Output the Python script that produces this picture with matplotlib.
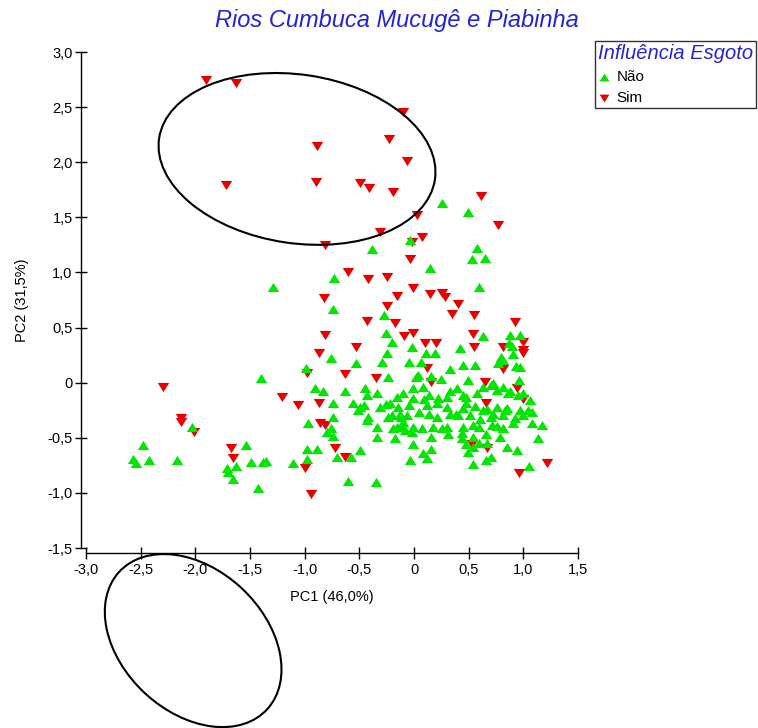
import matplotlib
matplotlib.use("Agg")
import matplotlib.pyplot as plt
from matplotlib.patches import Ellipse
from matplotlib.ticker import FuncFormatter

plt.rcParams['font.family'] = ['Liberation Sans', 'DejaVu Sans']

# PCA scores, sewage influence = "Sim"
sim_pc1 = [-1.90, -1.63, -0.10, -0.23, -0.89, -0.06, -1.72, -0.90, -0.49, -0.41,
           -0.19, 0.61, 0.03, 0.77, -0.31, 0.07, -0.02, -0.81, -0.04, -0.60,
           -0.42, -0.25, -0.01, 0.15, 0.26, 0.28, -0.82, -0.16, 0.40, -0.25,
           0.35, 0.55, -0.43, -0.17, 0.92, -0.81, -0.01, -0.09, 0.54, -0.53,
           0.10, 0.20, 0.55, 0.81, 1.00, 1.00, 1.00, -0.87, -0.98, -0.63,
           -0.35, 0.12, 0.81, 0.16, 0.65, 0.94, -2.30, -1.21, -1.06, -0.87,
           0.66, 1.00, -2.13, -2.13, -2.01, -0.86, -0.81, -1.67, -1.66, -0.72,
           -0.63, -1.00, -0.94, 0.53, 0.67, 1.22, 0.96]
sim_pc2 = [2.75, 2.72, 2.46, 2.21, 2.15, 2.01, 1.79, 1.82, 1.81, 1.77,
           1.73, 1.69, 1.52, 1.43, 1.37, 1.32, 1.28, 1.25, 1.12, 1.00,
           0.94, 0.96, 0.86, 0.80, 0.81, 0.78, 0.77, 0.79, 0.71, 0.70,
           0.62, 0.61, 0.56, 0.54, 0.55, 0.43, 0.45, 0.42, 0.44, 0.32,
           0.36, 0.36, 0.32, 0.32, 0.37, 0.30, 0.27, 0.27, 0.09, 0.08,
           0.04, 0.13, 0.12, 0.01, 0.01, -0.05, -0.04, -0.13, -0.20, -0.18,
           -0.18, -0.15, -0.32, -0.36, -0.45, -0.37, -0.38, -0.59, -0.68, -0.59,
           -0.67, -0.77, -1.01, -0.56, -0.59, -0.73, -0.82]

# PCA scores, sewage influence = "Não"
nao_pc1 = [0.26, 0.49, -0.04, -0.38, 0.58, 0.53, 0.65, 0.15, -0.73, -1.29,
           0.59, -0.74, -0.27, -0.26, -0.20, -0.02, -0.25, 0.11, 0.19, 0.42,
           0.63, 0.88, 0.97, 0.87, 0.80, 0.91, -0.76, -0.53, -0.29, -0.05,
           0.06, 0.33, 0.45, 0.56, 0.77, 0.93, 0.97, -1.40, -0.99, -0.24,
           0.02, 0.16, 0.25, 0.49, 0.96, -2.48, -2.57, -2.54, -2.42, -2.17,
           -2.03, -1.54, -1.71, -1.70, -1.63, -1.66, -1.49, -1.38, -1.35, -1.11,
           -0.98, -1.43, -0.91, -0.83, -0.63, -0.74, -0.56, -0.49, -0.45, -0.43,
           -0.34, -0.97, -0.74, -0.80, -0.76, -0.74, -0.42, -0.34, -0.34, -0.98,
           -0.89, -0.70, -0.49, -0.58, -0.60, -0.35, -0.26, -0.31, -0.16, -0.10,
           -0.20, -0.12, -0.06, -0.24, -0.16, -0.08, -0.17, -0.51, -0.46, -0.22,
           -0.15, -0.05, -0.01, 0.08, 0.14, 0.22, 0.30, 0.39, 0.45, 0.58,
           0.63, 0.70, 0.76, 0.81, 0.86, 1.00, 1.06, -0.01, 0.09, 0.21,
           0.33, 0.48, 0.72, 0.88, 0.95, 0.48, 0.56, 0.67, 0.76, 0.85,
           0.97, 1.08, -0.13, 0.05, 0.14, 0.21, 0.33, 0.40, 0.51, 0.60,
           0.70, 0.81, 0.92, 1.00, 1.08, 1.17, -0.11, -0.02, 0.07, 0.17,
           0.26, 0.31, 0.44, 0.54, 0.66, 0.76, 0.81, 0.91, 1.13, -0.01,
           0.16, 0.08, 0.48, 0.59, 0.85, 0.94, -0.04, 0.49, 0.70, 0.66,
           0.54, 1.05, 0.12, 0.30, 0.38, 0.45, 0.63, 0.72, 0.83, 1.04,
           -0.43, -0.19, -0.10, -0.01, 0.30, 0.45, 0.59, 0.71, 0.16, 0.44,
           0.54, 0.79, 0.54, 0.67, 0.12, 0.04, 0.90, 0.81]
nao_pc2 = [1.63, 1.55, 1.29, 1.21, 1.22, 1.12, 1.13, 1.04, 0.95, 0.87,
           0.87, 0.67, 0.61, 0.45, 0.37, 0.32, 0.27, 0.27, 0.27, 0.31,
           0.42, 0.43, 0.43, 0.36, 0.23, 0.26, 0.22, 0.18, 0.19, 0.19,
           0.19, 0.12, 0.16, 0.16, 0.18, 0.15, 0.14, 0.04, 0.13, 0.05,
           0.05, 0.06, 0.03, 0.02, 0.02, -0.57, -0.69, -0.73, -0.70, -0.70,
           -0.40, -0.57, -0.77, -0.81, -0.76, -0.87, -0.72, -0.72, -0.71, -0.73,
           -0.69, -0.96, -0.05, -0.08, -0.08, -0.18, -0.18, -0.22, -0.05, -0.11,
           -0.09, -0.37, -0.31, -0.45, -0.41, -0.48, -0.31, -0.40, -0.49, -0.60,
           -0.60, -0.67, -0.61, -0.67, -0.89, -0.90, -0.19, -0.22, -0.13, -0.09,
           -0.29, -0.31, -0.29, -0.31, -0.40, -0.43, -0.50, -0.25, -0.20, -0.18,
           -0.22, -0.20, -0.05, -0.04, -0.11, -0.14, -0.13, -0.05, -0.11, -0.09,
           -0.04, -0.02, -0.07, -0.04, -0.09, -0.09, -0.16, -0.14, -0.15, -0.18,
           -0.08, -0.13, 0.00, -0.08, -0.11, -0.18, -0.21, -0.24, -0.22, -0.23,
           -0.25, -0.27, -0.28, -0.27, -0.28, -0.31, -0.28, -0.29, -0.29, -0.33,
           -0.31, -0.29, -0.32, -0.29, -0.37, -0.38, -0.39, -0.45, -0.41, -0.40,
           -0.41, -0.47, -0.46, -0.38, -0.47, -0.39, -0.41, -0.37, -0.50, -0.56,
           -0.60, -0.64, -0.56, -0.55, -0.58, -0.61, -0.70, -0.63, -0.67, -0.70,
           -0.74, -0.76, -0.20, -0.22, -0.28, -0.23, -0.25, -0.28, -0.25, -0.25,
           -0.34, -0.41, -0.36, -0.40, -0.40, -0.40, -0.40, -0.38, -0.49, -0.50,
           -0.49, -0.49, -0.58, -0.55, -0.68, 0.07, 0.33, 0.21]

# confidence ellipses: centre, width, height, angle
ellipses = [((-1.07, 2.03), 2.55, 1.53, -8.4),
            ((-2.02, -2.34), 1.84, 1.30, -42.5)]

xticks = [-3.0, -2.5, -2.0, -1.5, -1.0, -0.5, 0.0, 0.5, 1.0, 1.5]
yticks = [-1.5, -1.0, -0.5, 0.0, 0.5, 1.0, 1.5, 2.0, 2.5, 3.0]

# flattened triangles
tri_up = [(-1, -0.8), (1, -0.8), (0, 0.8), (-1, -0.8)]
tri_down = [(-1, 0.8), (1, 0.8), (0, -0.8), (-1, 0.8)]

fig = plt.figure(figsize=(7.58, 7.28), dpi=100)
ax = fig.add_axes([86/758, 180/728, 492/758, 496/728])

red = ax.scatter(sim_pc1, sim_pc2, marker=tri_down, s=68, color='#e60000',
                 linewidths=0, zorder=3, label='Sim')
green = ax.scatter(nao_pc1, nao_pc2, marker=tri_up, s=68, color='#00e600',
                   linewidths=0, zorder=4, label='Não')

for centre, w, h, ang in ellipses:
    ax.add_patch(Ellipse(centre, w, h, angle=ang, fill=False, edgecolor='black',
                         linewidth=1.5, clip_on=False, zorder=5))

ax.set_xlim(-3.0, 1.5)
ax.set_ylim(-1.5, 3.0)
ax.set_xticks(xticks)
ax.set_yticks(yticks)


def comma(v, pos):
    if abs(v) < 1e-9:
        return '0'
    return ('%.1f' % v).replace('.', ',')


ax.xaxis.set_major_formatter(FuncFormatter(comma))
ax.yaxis.set_major_formatter(FuncFormatter(comma))

for side in ['top', 'right']:
    ax.spines[side].set_visible(False)
for side in ['left', 'bottom']:
    ax.spines[side].set_position(('outward', 3.6))
    ax.spines[side].set_linewidth(1.0)

ax.tick_params(axis='both', direction='inout', length=9, width=1.0,
               labelsize=10.5, colors='black')
ax.tick_params(axis='x', pad=3)
ax.tick_params(axis='y', pad=1.5)

ax.set_xlabel('PC1 (46,0%)', fontsize=10.5, va='center')
ax.set_ylabel('PC2 (31,5%)', fontsize=10.5, va='center')
ax.xaxis.set_label_coords(0.5, (548 - 597) / 496)
ax.yaxis.set_label_coords((22 - 86) / 492, 0.5)

fig.text(397/758, 1 - 20/728, 'Rios Cumbuca Mucugê e Piabinha', ha='center',
         va='center', fontsize=17, style='italic', color='#2424d0')

leg = fig.legend([green, red], ['Não', 'Sim'], title='Influência Esgoto',
                 loc='upper left', bbox_to_anchor=(595/758, 1 - 41/728),
                 fontsize=11, title_fontproperties={'size': 14.5, 'style': 'italic'},
                 alignment='left', frameon=True, fancybox=False, shadow=False,
                 edgecolor='black', borderpad=0.2, labelspacing=0.45,
                 handlelength=0.8, handletextpad=0.4, borderaxespad=0,
                 markerscale=0.85)
leg.get_title().set_color('#2424d0')
leg.get_frame().set_linewidth(1.0)

fig.savefig('out.png', dpi=100)
